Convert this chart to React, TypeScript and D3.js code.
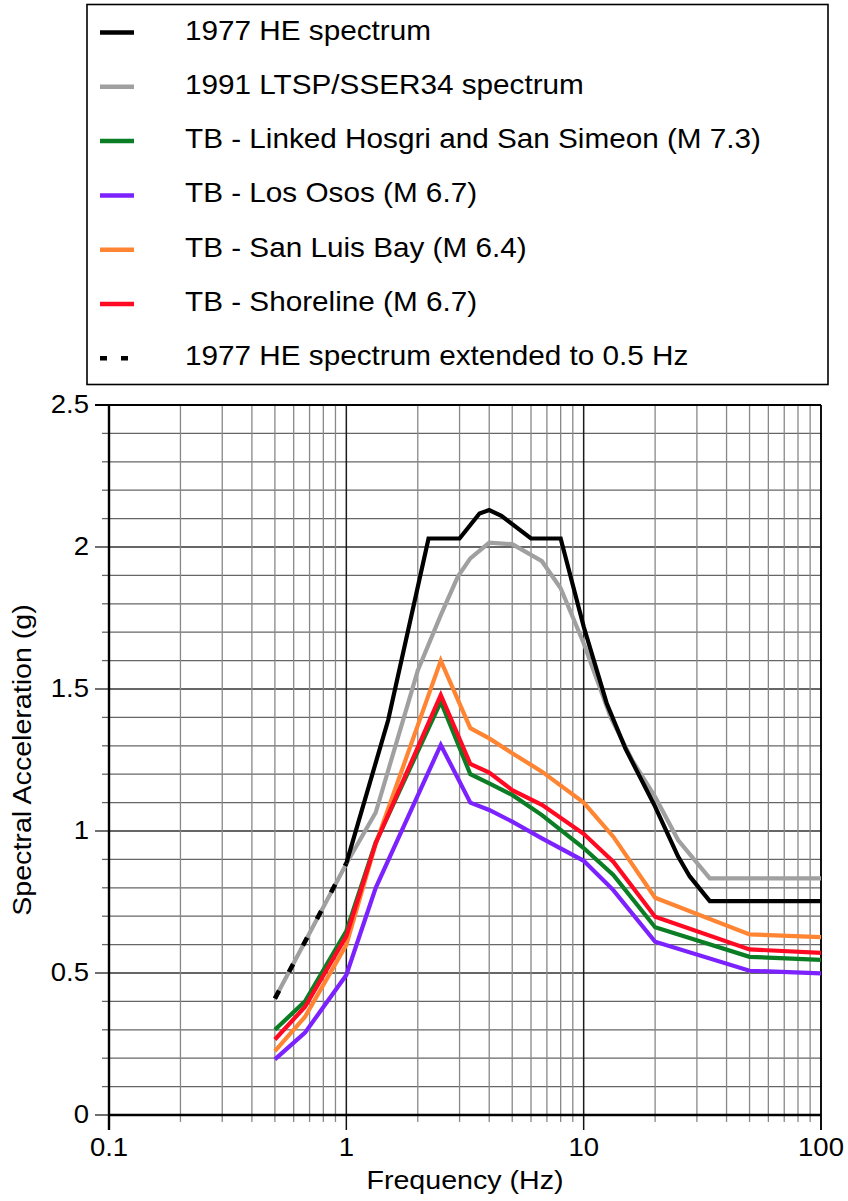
import React from 'react';
import * as d3 from 'd3';

// ---------- data ----------
const tbFreq = [0.5, 0.67, 1, 1.33, 2.5, 3.33, 4, 5, 6.67, 10, 13.33, 20, 50, 100];
const hosgriSA = [0.3, 0.4, 0.648, 0.96, 1.455, 1.2, 1.168, 1.127, 1.056, 0.94, 0.845, 0.661, 0.557, 0.546];
const losOsosSA = [0.196, 0.29, 0.493, 0.8, 1.303, 1.1, 1.074, 1.033, 0.974, 0.895, 0.792, 0.61, 0.508, 0.499];
const sanLuisBaySA = [0.225, 0.346, 0.599, 0.955, 1.6, 1.362, 1.326, 1.274, 1.209, 1.1, 0.98, 0.765, 0.636, 0.626];
const shorelineSA = [0.266, 0.381, 0.63, 0.957, 1.479, 1.236, 1.206, 1.144, 1.092, 0.99, 0.892, 0.698, 0.583, 0.571];

const he1977Freq = [1, 1.5, 2.22, 3, 3.64, 4, 4.5, 6, 8, 10, 12.5, 15, 20, 25, 28, 34, 100];
const he1977SA = [0.886, 1.39, 2.03, 2.03, 2.118, 2.13, 2.11, 2.03, 2.03, 1.72, 1.45, 1.29, 1.086, 0.91, 0.84, 0.753, 0.753];

const ltspFreq = [0.5, 1, 1.33, 2, 2.5, 2.95, 3.33, 4, 5, 6.67, 8, 10, 13, 16, 20, 25, 34, 100];
const ltspSA = [0.41, 0.885, 1.065, 1.565, 1.76, 1.896, 1.96, 2.015, 2.01, 1.95, 1.855, 1.661, 1.4, 1.25, 1.12, 0.968, 0.833, 0.833];

const heExtFreq = [0.5, 1];
const heExtSA = [0.41, 0.886];

const xTickValues = [0.1, 1, 10, 100];
const xTickLabels = ['0.1', '1', '10', '100'];
const yTickValues = [0, 0.5, 1, 1.5, 2, 2.5];
const yTickLabels = ['0', '0.5', '1', '1.5', '2', '2.5'];

const legendLabels = [
  '1977 HE spectrum',
  '1991 LTSP/SSER34 spectrum',
  'TB - Linked Hosgri and San Simeon (M 7.3)',
  'TB - Los Osos (M 6.7)',
  'TB - San Luis Bay (M 6.4)',
  'TB - Shoreline (M 6.7)',
  '1977 HE spectrum extended to 0.5 Hz',
];
const legendColors = ['#000000', '#a0a0a0', '#0b7d24', '#7b22ff', '#ff8533', '#ff0a22', '#000000'];

const xTitle = 'Frequency (Hz)';
const yTitle = 'Spectral Acceleration (g)';

// ---------- layout ----------
const W = 848;
const H = 1201;
const L = 109;
const R = 821;
const T = 405;
const B = 1115;
const FONT = '"Liberation Sans", Arial, Helvetica, sans-serif';
const SX = 1.1;

const x = d3.scaleLog().domain([0.1, 100]).range([L, R]);
const y = d3.scaleLinear().domain([0, 2.5]).range([B, T]);

function Txt(props: { x: number; y: number; size: number; anchor?: string; rotate?: number; children: any }) {
  const { anchor = 'start', rotate = 0 } = props;
  return (
    <text
      transform={`translate(${props.x},${props.y}) rotate(${rotate}) scale(${SX},1)`}
      fontSize={props.size}
      fontFamily={FONT}
      textAnchor={anchor}
      fill="#000"
    >
      {props.children}
    </text>
  );
}

export default function App() {
  const line = d3
    .line<[number, number]>()
    .x((d) => x(d[0]))
    .y((d) => y(d[1]));
  const pts = (f: number[], v: number[]) => f.map((d, i) => [d, v[i]] as [number, number]);

  const minorX: number[] = [];
  const majorX: number[] = [];
  [0.1, 1, 10].forEach((dec) => {
    majorX.push(dec);
    for (let k = 2; k <= 9; k++) minorX.push(dec * k);
  });
  majorX.push(100);
  const hVals = d3.range(0, 26).map((i) => i / 10);

  const series = [
    { d: pts(ltspFreq, ltspSA), c: legendColors[1] },
    { d: pts(he1977Freq, he1977SA), c: legendColors[0] },
    { d: pts(tbFreq, hosgriSA), c: legendColors[2] },
    { d: pts(tbFreq, losOsosSA), c: legendColors[3] },
    { d: pts(tbFreq, sanLuisBaySA), c: legendColors[4] },
    { d: pts(tbFreq, shorelineSA), c: legendColors[5] },
  ];

  const legY0 = 32.5;
  const legDY = 54.3;

  return (
    <svg width={W} height={H} style={{ position: 'absolute', left: 0, top: 0, background: '#fff' }}>
      <rect x={0} y={0} width={W} height={H} fill="#fff" />
      {/* legend */}
      <rect x={87} y={4.5} width={741} height={380} fill="none" stroke="#000" strokeWidth={1.6} />
      {legendLabels.map((lab, i) => {
        const ly = legY0 + i * legDY;
        const dashed = i === 6;
        return (
          <g key={lab}>
            <line
              x1={100}
              x2={dashed ? 129 : 134}
              y1={ly}
              y2={ly}
              stroke={legendColors[i]}
              strokeWidth={4.5}
              strokeDasharray={dashed ? '7,14' : undefined}
            />
            <Txt x={185} y={ly + 7} size={27}>
              {lab}
            </Txt>
          </g>
        );
      })}

      {/* horizontal grid */}
      {hVals.map((v, i) => (
        <line
          key={'h' + i}
          x1={L}
          x2={R}
          y1={y(v)}
          y2={y(v)}
          stroke={i % 5 === 0 ? '#333' : '#666'}
          strokeWidth={i % 5 === 0 ? 1.4 : 1.2}
        />
      ))}
      {/* vertical grid */}
      {minorX.map((v, i) => (
        <line key={'vm' + i} x1={x(v)} x2={x(v)} y1={T} y2={B} stroke="#888" strokeWidth={1.3} />
      ))}
      {majorX.map((v, i) => (
        <line key={'vM' + i} x1={x(v)} x2={x(v)} y1={T} y2={B} stroke="#1a1a1a" strokeWidth={1.5} />
      ))}

      {/* y ticks */}
      {hVals.map((v, i) => (
        <line
          key={'yt' + i}
          x1={i % 5 === 0 ? L - 14 : L - 7}
          x2={L}
          y1={y(v)}
          y2={y(v)}
          stroke={i % 5 === 0 ? '#222' : '#666'}
          strokeWidth={1.3}
        />
      ))}
      {/* x ticks */}
      {minorX.map((v, i) => (
        <line key={'xt' + i} x1={x(v)} x2={x(v)} y1={B} y2={B + 7} stroke="#888" strokeWidth={1.3} />
      ))}
      {majorX.map((v, i) => (
        <line key={'xT' + i} x1={x(v)} x2={x(v)} y1={B} y2={B + 15} stroke="#111" strokeWidth={1.5} />
      ))}

      {/* frame */}
      <line x1={L - 14} x2={R} y1={T} y2={T} stroke="#000" strokeWidth={2.2} />
      <line x1={L} x2={L} y1={T} y2={B + 15} stroke="#000" strokeWidth={2.4} />
      <line x1={L} x2={R} y1={B} y2={B} stroke="#000" strokeWidth={2.6} />
      <line x1={R} x2={R} y1={T} y2={B + 15} stroke="#000" strokeWidth={1.6} />

      {/* series */}
      {series.map((s, i) => (
        <path
          key={'s' + i}
          d={line(s.d) || ''}
          fill="none"
          stroke={s.c}
          strokeWidth={4.2}
          strokeLinejoin="miter"
          strokeLinecap="butt"
        />
      ))}
      <path
        d={line(pts(heExtFreq, heExtSA)) || ''}
        fill="none"
        stroke="#000"
        strokeWidth={4.6}
        strokeDasharray="9,21"
      />

      {/* tick labels */}
      {yTickValues.map((v, i) => (
        <Txt key={'yl' + i} x={89} y={y(v) + 8} size={25} anchor="end">
          {yTickLabels[i]}
        </Txt>
      ))}
      {xTickValues.map((v, i) => (
        <Txt key={'xl' + i} x={x(v)} y={1156} size={25} anchor="middle">
          {xTickLabels[i]}
        </Txt>
      ))}

      {/* titles */}
      <Txt x={(L + R) / 2} y={1189} size={26} anchor="middle">
        {xTitle}
      </Txt>
      <Txt x={31} y={(T + B) / 2} size={26} anchor="middle" rotate={-90}>
        {yTitle}
      </Txt>
    </svg>
  );
}
